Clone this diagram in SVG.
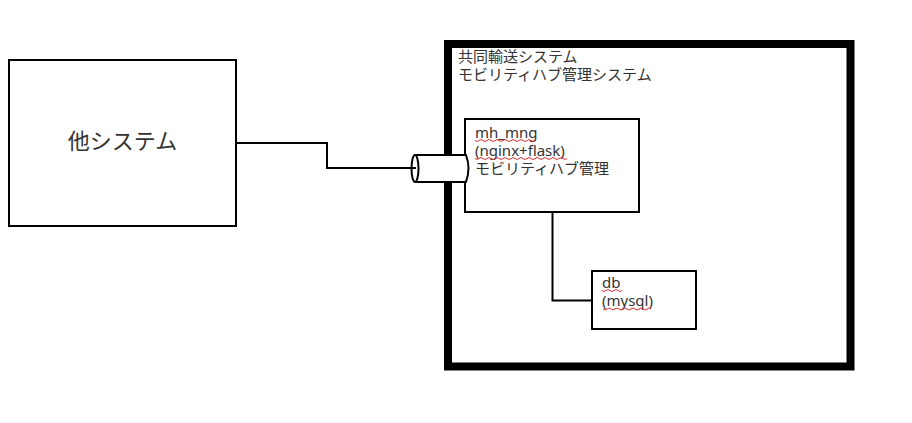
<svg xmlns="http://www.w3.org/2000/svg" width="912" height="423" viewBox="0 0 912 423">
<style>
.box{fill:#fff;stroke:#000;stroke-width:2}
.wire{fill:none;stroke:#000;stroke-width:2}
.t{font-family:"Noto Sans","Noto Sans CJK JP",sans-serif;font-size:15px;fill:#333}
.squig{fill:none;stroke:#e03030;stroke-width:1}
</style>
<rect width="912" height="423" fill="#fff"/>
<g id="other-system">
<rect class="box" x="9" y="60" width="227" height="166"/>
<text x="122.500" y="149" text-anchor="middle" font-family="'Noto Sans CJK JP',sans-serif" font-size="22" fill="#333">他システム</text>
</g>
<g id="mobility-hub-system">
<rect x="448" y="44" width="402.500" height="322.500" fill="#fff" stroke="#000" stroke-width="8"/>
<text class="t" y="62"><tspan x="458">共同輸送システム</tspan><tspan x="458" dy="18">モビリティハブ管理システム</tspan></text>
</g>
<g id="mh_mng">
<rect class="box" x="465" y="119" width="174" height="93"/>
<text class="t" y="138"><tspan x="475">mh_mng</tspan><tspan x="475" dy="18">(nginx+flask)</tspan><tspan x="475" dy="18">モビリティハブ管理</tspan></text>
<path class="squig" d="M475 140.500q2 2 4 0t4 0t4 0t4 0t4 0t4 0t4 0t4 0t4 0t4 0t4 0t4 0t4 0t4 0t4 0M475 158.500q2 2 4 0t4 0t4 0t4 0t4 0t4 0t4 0t4 0t4 0t4 0t4 0t4 0t4 0t4 0t4 0t4 0t4 0t4 0t4 0t4 0t4 0t4 0t4 0"/>
</g>
<g id="db">
<rect class="box" x="592" y="271" width="104" height="58"/>
<text class="t" y="288"><tspan x="602">db</tspan><tspan x="602" dy="18">(mysql)</tspan></text>
<path class="squig" d="M602 290.500q2 2 4 0t4 0t4 0t4 0t4 0M603 309q2 2 4 0t4 0t4 0t4 0t4 0t4 0t4 0t4 0t4 0t4 0t4 0t4 0"/>
</g>
<g id="connectors">
<path class="wire" d="M236 143H327V168H416"/>
<path class="wire" d="M552.500 212V300.500H592"/>
</g>
<g id="interface">
<path d="M416 155H466Q471 168 466 182H416Z" fill="#fff" stroke="#000" stroke-width="2"/>
<ellipse cx="415" cy="168.500" rx="3.500" ry="13.500" fill="#fff" stroke="#000" stroke-width="2"/>
<path class="wire" d="M405 168H416"/>
</g>
</svg>
